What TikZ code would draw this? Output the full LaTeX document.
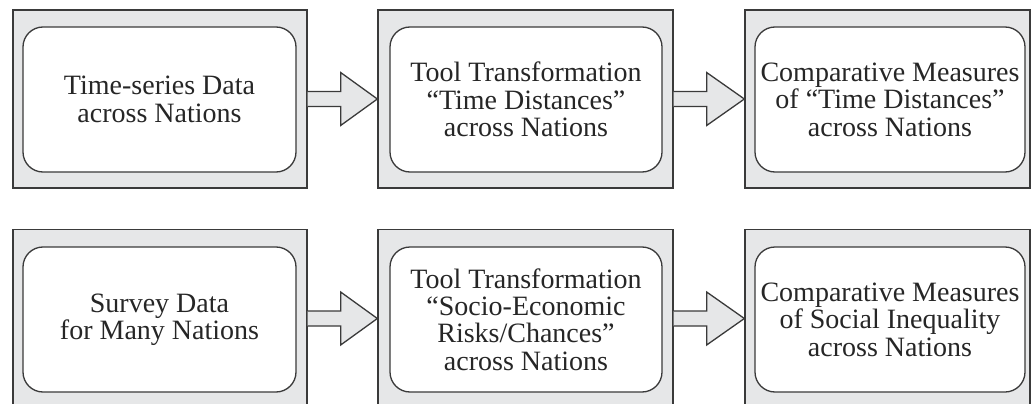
\documentclass[tikz,border=0pt]{standalone}
\usepackage{fontspec}
\setmainfont{Liberation Serif}
\newfontfamily\cardfont{Liberation Serif}
\usetikzlibrary{calc}
\definecolor{panelgray}{HTML}{E6E7E8}
\definecolor{edgegray}{HTML}{3A3A3A}
\begin{document}
\begin{tikzpicture}[x=1pt,y=-1pt,
  panel/.style={draw=edgegray,fill=panelgray,line width=1.3pt,minimum height=178pt,inner sep=0pt},
  card/.style={draw=edgegray,fill=white,line width=1.3pt,rounded corners=20pt,
    minimum height=145pt,inner sep=0pt,align=center,text=black!85,
    font=\cardfont\fontsize{28pt}{27.4pt}\selectfont},
  flow/.style={draw=edgegray,fill=panelgray,line width=1.3pt,line join=miter}]
\useasboundingbox (0,0) rectangle (1031,404);

% outer grey panels
\node[panel,minimum width=294pt] (o1) at (160,99) {};
\node[panel,minimum width=295pt] (o2) at (525.5,99) {};
\node[panel,minimum width=285pt] (o3) at (887.5,99) {};
\node[panel,minimum width=294pt] (o4) at (160,318.5) {};
\node[panel,minimum width=295pt] (o5) at (525.5,318.5) {};
\node[panel,minimum width=285pt] (o6) at (887.5,318.5) {};

% rounded text cards
\node[card,minimum width=273pt] (t1) at (159.5,99.5) {Time-series Data\\across Nations};
\node[card,minimum width=272pt] (t2) at (526,99.5) {Tool Transformation\\“Time Distances”\\across Nations};
\node[card,minimum width=270pt] (t3) at (890,99.5) {Comparative Measures\\of “Time Distances”\\across Nations};
\node[card,minimum width=273pt] (t4) at (159.5,319.5) {Survey Data\\for Many Nations};
\node[card,minimum width=272pt] (t5) at (526,319.5) {Tool Transformation\\“Socio-Economic\\Risks/Chances”\\across Nations};
\node[card,minimum width=270pt] (t6) at (890,319.5) {Comparative Measures\\of Social Inequality\\across Nations};

% block arrows between panels
\foreach \a/\b in {o1/o2,o2/o3,o4/o5,o5/o6}{
  \filldraw[flow] ($(\a.east)+(0,-7.5)$) -- ($(\a.east)+(33,-7.5)$) -- ($(\a.east)+(33,-26.5)$)
    -- (\b.west) -- ($(\a.east)+(33,26.5)$) -- ($(\a.east)+(33,7.5)$) -- ($(\a.east)+(0,7.5)$);
}
\end{tikzpicture}
\end{document}
